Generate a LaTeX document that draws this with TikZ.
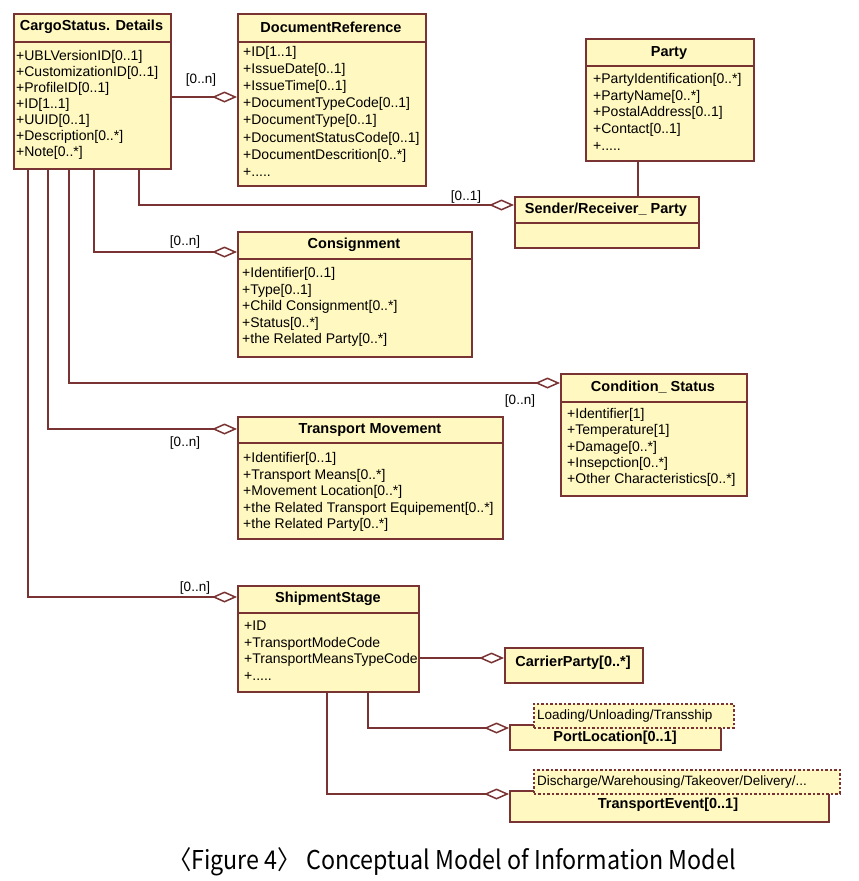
\documentclass[tikz,border=0pt]{standalone}
\usepackage{fontspec}
\usepackage{graphicx}
\setmainfont{Liberation Sans}
\newfontfamily\capfont{Noto Sans CJK KR}
\usetikzlibrary{arrows.meta,calc}
\definecolor{clsfill}{RGB}{255,248,192}
\definecolor{clsline}{RGB}{122,51,51}
\tikzset{
 cls/.style={draw=clsline, fill=clsfill, line width=1.5pt, anchor=north west, inner sep=0pt},
 ttl/.style={font=\fontsize{14.5}{16}\selectfont\bfseries, inner sep=0pt},
 att/.style={font=\fontsize{14}{16}\selectfont, anchor=west, inner sep=0pt, text height=10pt, text depth=3pt},
 lbl/.style={font=\fontsize{13.5}{15}\selectfont, inner sep=0pt},
 tlbl/.style={font=\fontsize{13.5}{15}\selectfont, anchor=west, inner sep=0pt},
 agg/.style={draw=clsline, line width=1.5pt, -{Diamond[open, length=25pt, width=11pt]}},
 conn/.style={draw=clsline, line width=1.5pt},
 tmpl/.style={draw=clsline, fill=clsfill, line width=1.5pt, dash pattern=on 2.5pt off 2pt, anchor=north west, inner sep=0pt},
}
\newcommand\plusdots{+.....}
\newcommand\attlist[5]{\foreach \attr [count=\i] in {#5} {\node[att] (#1-\i) at ({#2},{#3+(\i-1)*#4}) {\attr};}}
\begin{document}
\begin{tikzpicture}[x=1pt,y=-1pt]
\path[use as bounding box, fill=white] (0,0) rectangle (859,881);

% CargoStatus. Details
\node[cls, minimum width=157pt, minimum height=155pt] (cargo) at (13,13) {};
\draw[conn] ($(cargo.north west)+(0,29)$) -- ($(cargo.north east)+(0,29)$);
\node[ttl] (cargo-t) at (91.5,27) {CargoStatus. Details};
\attlist{cargo}{16}{57}{16}{+UBLVersionID[0..1], +CustomizationID[0..1], +ProfileID[0..1], +ID[1..1], +UUID[0..1], +Description[0..*], +Note[0..*]}

% DocumentReference
\node[cls, minimum width=188pt, minimum height=172pt] (docref) at (237,13) {};
\draw[conn] ($(docref.north west)+(0,29)$) -- ($(docref.north east)+(0,29)$);
\node[ttl] (docref-t) at (331,27) {DocumentReference};
\attlist{docref}{243}{53}{17.1}{+ID[1..1], +IssueDate[0..1], +IssueTime[0..1], +DocumentTypeCode[0..1], +DocumentType[0..1], +DocumentStatusCode[0..1], +DocumentDescrition[0..*], \plusdots}

% Party
\node[cls, minimum width=168pt, minimum height=122pt] (party) at (585,38) {};
\draw[conn] ($(party.north west)+(0,28)$) -- ($(party.north east)+(0,28)$);
\node[ttl] (party-t) at (669,53) {Party};
\attlist{party}{593}{80}{16.7}{+PartyIdentification[0..*], +PartyName[0..*], +PostalAddress[0..1], +Contact[0..1], \plusdots}

% Sender/Receiver_ Party
\node[cls, minimum width=184pt, minimum height=51pt] (sender) at (514,196) {};
\draw[conn] ($(sender.north west)+(0,27)$) -- ($(sender.north east)+(0,27)$);
\node[ttl] (sender-t) at (606,210) {Sender/Receiver\_ Party};

% Consignment
\node[cls, minimum width=234pt, minimum height=125pt] (consign) at (237,231) {};
\draw[conn] ($(consign.north west)+(0,28)$) -- ($(consign.north east)+(0,28)$);
\node[ttl] (consign-t) at (354,245) {Consignment};
\attlist{consign}{242}{274}{16.5}{+Identifier[0..1], +Type[0..1], +Child Consignment[0..*], +Status[0..*], +the Related Party[0..*]}

% Condition_ Status
\node[cls, minimum width=186pt, minimum height=122pt] (cond) at (560,373) {};
\draw[conn] ($(cond.north west)+(0,29)$) -- ($(cond.north east)+(0,29)$);
\node[ttl] (cond-t) at (653,387) {Condition\_ Status};
\attlist{cond}{567}{415}{16.3}{+Identifier[1], +Temperature[1], +Damage[0..*], +Insepction[0..*], +Other Characteristics[0..*]}

% Transport Movement
\node[cls, minimum width=265pt, minimum height=122pt] (tmove) at (237,416) {};
\draw[conn] ($(tmove.north west)+(0,27)$) -- ($(tmove.north east)+(0,27)$);
\node[ttl] (tmove-t) at (370,430) {Transport Movement};
\attlist{tmove}{243}{459}{16.5}{+Identifier[0..1], +Transport Means[0..*], +Movement Location[0..*], +the Related Transport Equipement[0..*], +the Related Party[0..*]}

% ShipmentStage
\node[cls, minimum width=181pt, minimum height=106pt] (ship) at (237,585) {};
\draw[conn] ($(ship.north west)+(0,28)$) -- ($(ship.north east)+(0,28)$);
\node[ttl] (ship-t) at (328,599) {ShipmentStage};
\attlist{ship}{244}{627}{16.7}{+ID, +TransportModeCode, +TransportMeansTypeCode, \plusdots}

% CarrierParty
\node[cls, minimum width=138pt, minimum height=35pt] (carrier) at (504,647) {};
\node[ttl] (carrier-t) at (573,663) {CarrierParty[0..*]};

% PortLocation
\node[cls, minimum width=211pt, minimum height=25pt] (port) at (509,724) {};
\node[tmpl, minimum width=200pt, minimum height=24pt] (portp) at (533,703) {};
\node[tlbl] (portp-t) at (537,716) {Loading/Unloading/Transship};
\node[ttl] (port-t) at (615,738) {PortLocation[0..1]};

% TransportEvent
\node[cls, minimum width=319pt, minimum height=31pt] (tevent) at (509,790) {};
\node[tmpl, minimum width=306pt, minimum height=24pt] (teventp) at (533,769) {};
\node[tlbl] (teventp-t) at (537,782) {Discharge/Warehousing/Takeover/Delivery/...};
\node[ttl] (tevent-t) at (668,805) {TransportEvent[0..1]};

% connectors
\draw[agg] ($(cargo.north east)+(0,84)$) -- ($(docref.north west)+(0,84)$);
\node[lbl] (l1) at (201,80) {[0..n]};
\draw[agg] ($(cargo.south west)+(126,0)$) |- ($(sender.north west)+(0,9)$);
\node[lbl] (l2) at (466,197) {[0..1]};
\draw[agg] ($(cargo.south west)+(81,0)$) |- ($(consign.north west)+(0,21)$);
\node[lbl] (l3) at (185,242) {[0..n]};
\draw[agg] ($(cargo.south west)+(56,0)$) |- ($(cond.north west)+(0,10)$);
\node[lbl] (l4) at (520,401) {[0..n]};
\draw[agg] ($(cargo.south west)+(35,0)$) |- ($(tmove.north west)+(0,13)$);
\node[lbl] (l5) at (185,443) {[0..n]};
\draw[agg] ($(cargo.south west)+(15,0)$) |- ($(ship.north west)+(0,12)$);
\node[lbl] (l6) at (195,588) {[0..n]};
\draw[conn] ($(party.south west)+(53,0)$) -- ($(sender.north west)+(124,0)$);
\draw[agg] ($(ship.north east)+(0,73)$) -- ($(carrier.north west)+(0,11)$);
\draw[agg] ($(ship.south west)+(131,0)$) |- ($(port.north west)+(0,4)$);
\draw[agg] ($(ship.south west)+(90,0)$) |- ($(tevent.north west)+(0,4)$);

% caption
\node[font=\capfont\fontsize{24}{28}\selectfont, inner sep=0pt] (cap) at (452,862) {\scalebox{0.97}[1.08]{〈Figure 4〉 Conceptual Model of Information Model}};
\end{tikzpicture}
\end{document}
